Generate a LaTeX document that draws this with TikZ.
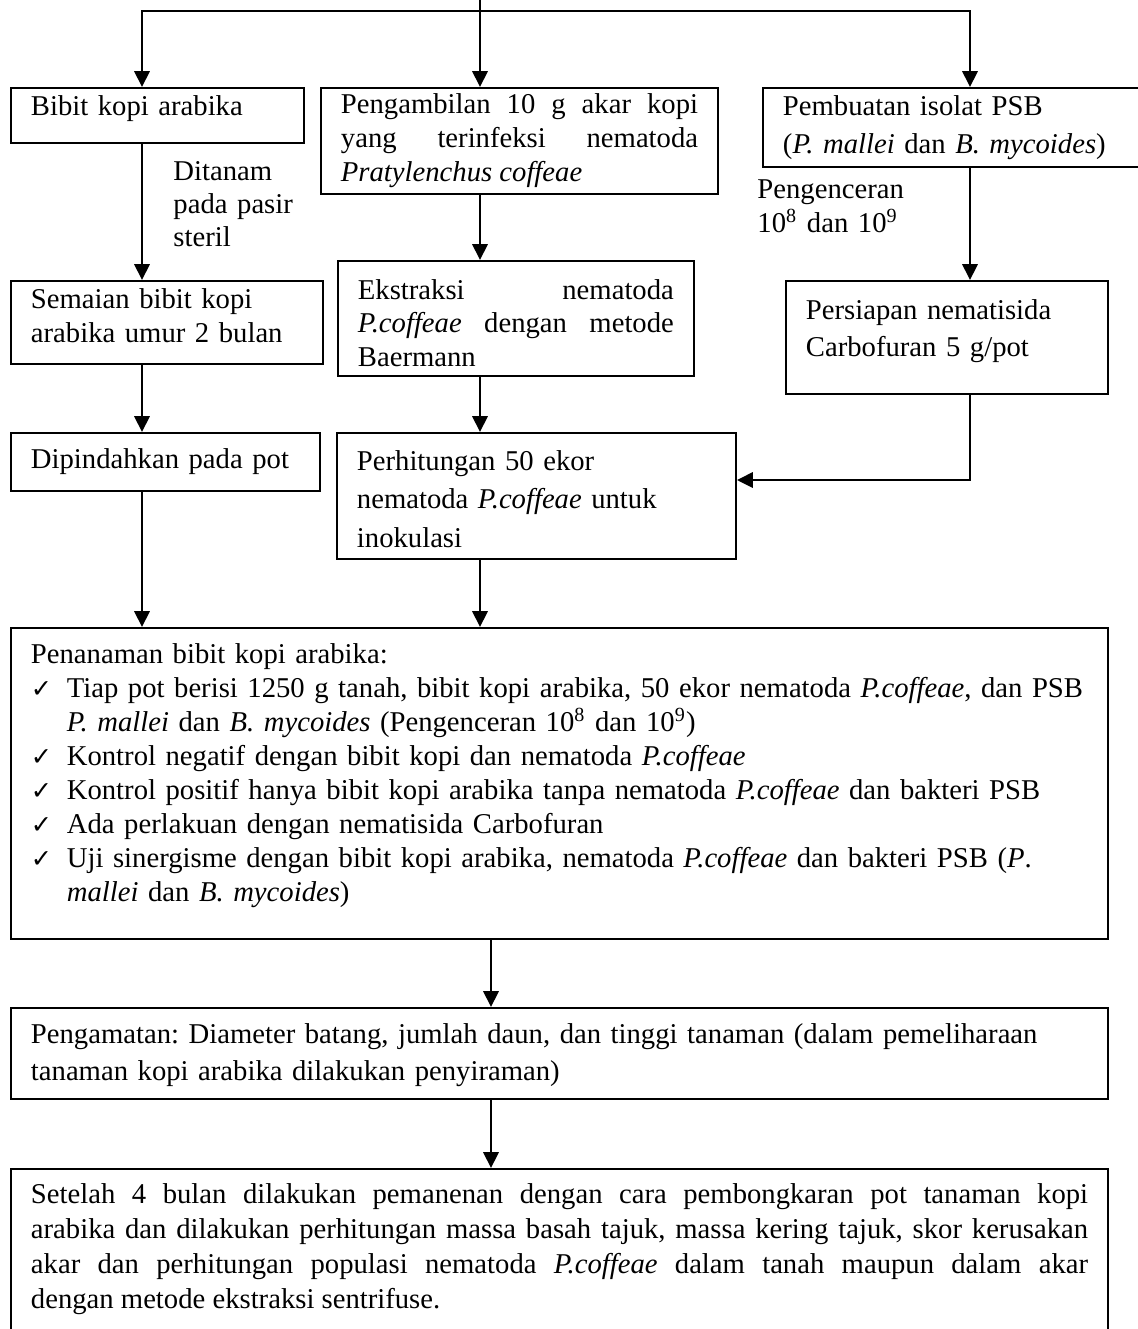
\documentclass[tikz,border=0pt]{standalone}
\usepackage{fontspec}
\setmainfont{Liberation Serif}
\newfontfamily\symfont{DejaVu Sans}
\usetikzlibrary{arrows.meta, positioning}

\newcommand{\cmark}{{\symfont\fontsize{10.5}{10}\selectfont ✓}}
\newcommand{\ckitem}{\par\noindent\hangindent=14.9pt\hangafter=1\makebox[14.9pt][l]{\cmark}}

\begin{document}
\frenchspacing
\begin{tikzpicture}[
    x=0.415pt, y=-0.415pt,
    proc/.style={draw, line width=0.8pt, anchor=north west, inner xsep=8.3pt, inner ysep=0pt,
                 align=left, font=\frenchspacing\fontsize{11.9}{14.1}\selectfont},
    note/.style={anchor=base west, inner sep=0pt, align=left, font=\fontsize{11.9}{13.9}\selectfont},
    arr/.style={-{Triangle[length=6.6pt, width=6.4pt]}, line width=0.8pt},
    link/.style={line width=0.8pt}
  ]
  \useasboundingbox (0,0) rectangle (1138,1329);

  % baris pertama
  \node[proc, text width=105pt, text height=11.6pt, text depth=11.2pt] (bibit) at (10,87)
    {Bibit kopi arabika};
  \node[proc, align=justify, text width=148.2pt, text height=10.8pt, text depth=33.2pt] (ambil) at (320,87)
    {Pengambilan 10 g akar kopi\linebreak yang terinfeksi nematoda\linebreak \textit{Pratylenchus coffeae}};
  \node[proc, text width=148.6pt, text height=11.6pt, text depth=21.2pt,
        font=\fontsize{11.9}{15.4}\selectfont] (isolat) at (762,87)
    {Pembuatan isolat PSB\\(\textit{P. mallei} dan \textit{B. mycoides})};

  % baris kedua
  \node[proc, text width=112.9pt, text height=11.6pt, text depth=22.8pt] (semai) at (10,280)
    {Semaian bibit kopi\\arabika umur 2 bulan};
  \node[proc, align=justify, text width=131.1pt, text height=15.8pt, text depth=32pt,
        font=\fontsize{11.9}{13.9}\selectfont] (ekstrak) at (337,260)
    {Ekstraksi nematoda\linebreak \textit{P.coffeae} dengan metode\linebreak Baermann};
  \node[proc, text width=117pt, text height=15.8pt, text depth=31.1pt,
        font=\fontsize{11.9}{15.4}\selectfont] (persiapan) at (785,280)
    {Persiapan nematisida\\Carbofuran 5 g/pot};

  % baris ketiga
  \node[proc, text width=111.6pt, text height=14.9pt, text depth=9.1pt] (pindah) at (10,432)
    {Dipindahkan pada pot};
  \node[proc, text width=149pt, text height=15.4pt, text depth=36.9pt,
        font=\fontsize{11.9}{16}\selectfont] (hitung) at (336,432)
    {Perhitungan 50 ekor\\nematoda \textit{P.coffeae} untuk\\inokulasi};

  % penanaman
  \node[proc, text width=438.7pt, text height=14.9pt, text depth=114.1pt] (tanam) at (10,627)
    {Penanaman bibit kopi arabika:
     \ckitem Tiap pot berisi 1250 g tanah, bibit kopi arabika, 50 ekor nematoda \textit{P.coffeae}, dan PSB\linebreak
       \textit{P. mallei} dan \textit{B. mycoides} (Pengenceran 10\textsuperscript{8} dan 10\textsuperscript{9})
     \ckitem Kontrol negatif dengan bibit kopi dan nematoda \textit{P.coffeae}
     \ckitem Kontrol positif hanya bibit kopi arabika tanpa nematoda \textit{P.coffeae} dan bakteri PSB
     \ckitem Ada perlakuan dengan nematisida Carbofuran
     \ckitem Uji sinergisme dengan bibit kopi arabika, nematoda \textit{P.coffeae} dan bakteri PSB (\textit{P}.\linebreak
       \textit{mallei} dan \textit{B. mycoides})\par};

  \node[proc, text width=438.7pt, text height=14.9pt, text depth=22.8pt,
        font=\fontsize{11.9}{15.4}\selectfont] (amat) at (10,1007)
    {Pengamatan: Diameter batang, jumlah daun, dan tinggi tanaman (dalam pemeliharaan\\tanaman kopi arabika dilakukan penyiraman)};

  \node[proc, align=justify, text width=438.7pt, text height=14.5pt, text depth=58.9pt,
        font=\fontsize{11.9}{14.5}\selectfont] (panen) at (10,1168)
    {Setelah 4 bulan dilakukan pemanenan dengan cara pembongkaran pot tanaman kopi\linebreak
     arabika dan dilakukan perhitungan massa basah tajuk, massa kering tajuk, skor kerusakan\linebreak
     akar dan perhitungan populasi nematoda \textit{P.coffeae} dalam tanah maupun dalam akar\linebreak
     dengan metode ekstraksi sentrifuse.};

  % keterangan panah
  \node[note, text width=60pt] (ditanam) at (173,180) {Ditanam\\pada pasir\\steril};
  \node[note, text width=70pt, font=\fontsize{11.9}{14.5}\selectfont] (encer) at (757,198)
    {Pengenceran\\10\textsuperscript{8} dan 10\textsuperscript{9}};

  % titik bantu
  \coordinate (src) at (480,0);
  \coordinate (busL) at (142,11);
  \coordinate (busM) at (480,11);
  \coordinate (busR) at (970,11);
  \coordinate (join) at (970,480);
  \coordinate (midx) at (491,0);

  % panah
  \draw[arr] (busM) -| (busL |- bibit.north);
  \draw[arr] (busM) -| (busR |- isolat.north);
  \draw[arr] (src) -- (busM |- ambil.north);
  \draw[arr] (bibit.south -| busL) -- (semai.north -| busL);
  \draw[arr] (ambil.south -| busM) -- (ekstrak.north -| busM);
  \draw[arr] (isolat.south -| busR) -- (persiapan.north -| busR);
  \draw[arr] (semai.south -| busL) -- (pindah.north -| busL);
  \draw[arr] (ekstrak.south -| busM) -- (hitung.north -| busM);
  \draw[arr] (persiapan.south -| busR) |- (hitung.east |- join);
  \draw[arr] (pindah.south -| busL) -- (tanam.north -| busL);
  \draw[arr] (hitung.south -| busM) -- (tanam.north -| busM);
  \draw[arr] (tanam.south -| midx) -- (amat.north -| midx);
  \draw[arr] (amat.south -| midx) -- (panen.north -| midx);
\end{tikzpicture}
\end{document}
